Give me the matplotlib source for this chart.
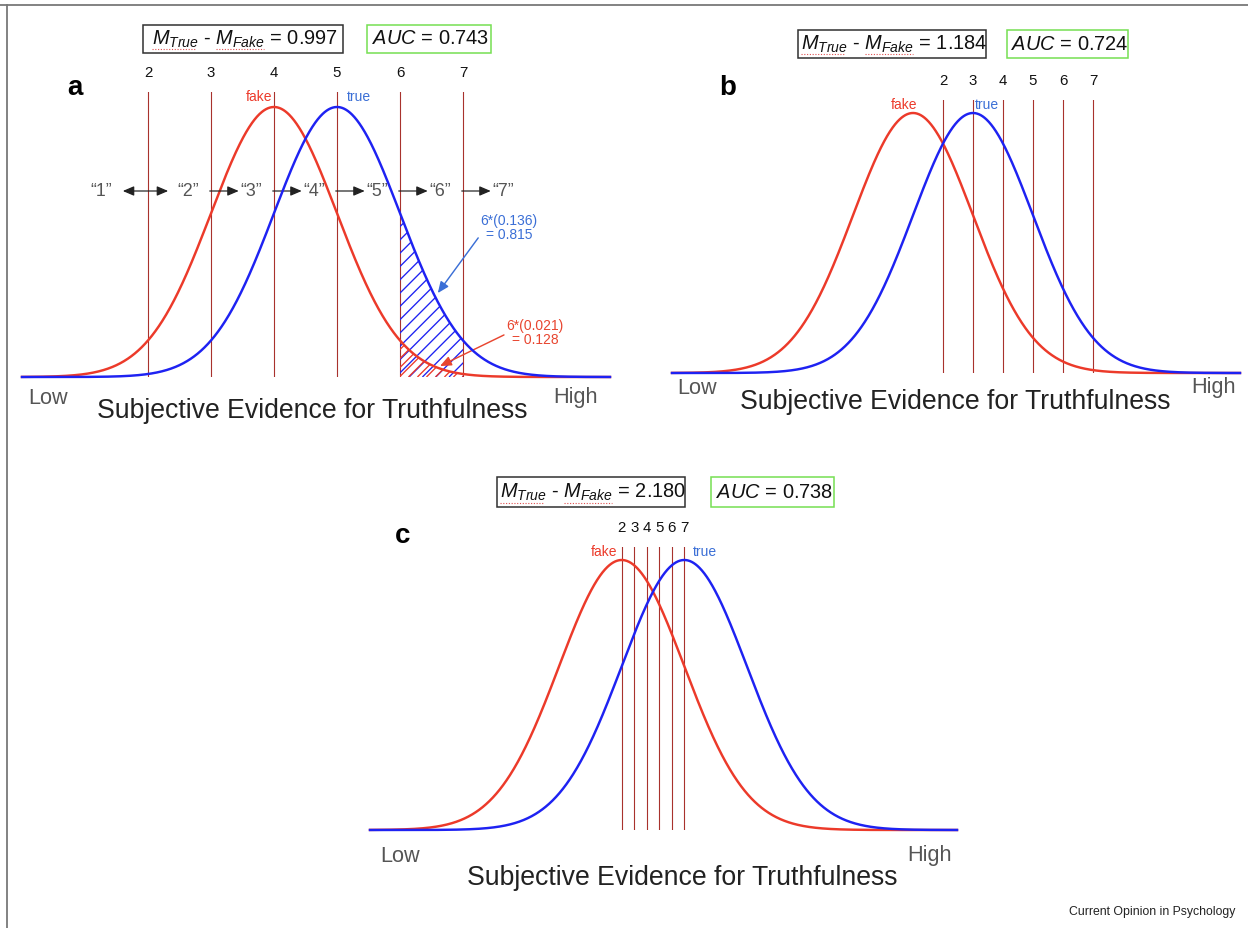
import numpy as np
import matplotlib
matplotlib.use("Agg")
import matplotlib.pyplot as plt
from matplotlib.patches import Rectangle, Polygon
from matplotlib.lines import Line2D
from matplotlib.collections import LineCollection

plt.rcParams["font.family"] = ["Liberation Sans", "DejaVu Sans"]
plt.rcParams["mathtext.fontset"] = "custom"
plt.rcParams["mathtext.rm"] = "Liberation Sans"
plt.rcParams["mathtext.it"] = "Liberation Sans:italic"
plt.rcParams["mathtext.sf"] = "Liberation Sans"

# signal detection setup: fake ~ N(0, 1), true ~ N(1, 1)
fake_mean = 0.0
true_mean = 1.0
sd = 1.0

criteria_a = [-2.0, -1.0, 0.0, 1.0, 2.0, 3.0]
criteria_b = [0.5, 1.0, 1.5, 2.0, 2.5, 3.0]
criteria_c = [0.0, 0.2, 0.4, 0.6, 0.8, 1.0]
criterion_labels = ["2", "3", "4", "5", "6", "7"]
rating_labels = ["\u201c1\u201d", "\u201c2\u201d", "\u201c3\u201d", "\u201c4\u201d",
                 "\u201c5\u201d", "\u201c6\u201d", "\u201c7\u201d"]

mean_diffs = ["0.997", "1.184", "2.180"]
aucs = ["0.743", "0.724", "0.738"]

true_area_text = "6*(0.136)\n= 0.815"
fake_area_text = "6*(0.021)\n= 0.128"

RED = "#ec3a2a"
BLUE = "#1e22f2"
CRIT = "#a8322d"
GRAY = "#555555"
ANN_BLUE = "#3b6fd6"
ANN_RED = "#e8452f"

W, H, DPI = 1248, 928, 80


def pdf(x, mu):
    return np.exp(-0.5 * ((x - mu) / sd) ** 2) / (sd * np.sqrt(2 * np.pi))


def fpos(x, y):
    return x / W, 1 - y / H


def hatch_under(ax, xs, ys, color, spacing_px, px_x, px_y, lw=1.2):
    # diagonal hatch lines (45 deg on screen) clipped to the area under a curve
    verts = [(xs[0], 0)] + list(zip(xs, ys)) + [(xs[-1], 0)]
    patch = Polygon(verts, closed=True, facecolor="none", edgecolor="none")
    ax.add_patch(patch)
    reach = ys.max() * px_y / px_x
    step = spacing_px / px_x
    starts = np.arange(xs[0] - reach - step, xs[-1] + step, step)
    run = (xs[-1] - xs[0]) + reach + 2 * step
    segs = [[(s, 0), (s + run, run * px_x / px_y)] for s in starts]
    lc = LineCollection(segs, colors=color, linewidths=lw, zorder=2)
    ax.add_collection(lc)
    lc.set_clip_path(patch)


# pixel layout per panel
panels = [
    dict(name="a", criteria=criteria_a, box=(22, 92, 610, 377), mean_px=274, unit_px=63, peak_px=107,
         diff_box=(143, 25, 343, 53), auc_box=(367, 25, 491, 53),
         letter=(75, 88), low=(28, 398), high=(598, 398), title=(312, 411),
         fake_dx=-2, true_dx=10),
    dict(name="b", criteria=criteria_b, box=(672, 100, 1240, 373), mean_px=913, unit_px=60, peak_px=113,
         diff_box=(798, 30, 986, 58), auc_box=(1007, 30, 1128, 58),
         letter=(728, 88), low=(677, 388), high=(1236, 388), title=(955, 402),
         fake_dx=4, true_dx=2),
    dict(name="c", criteria=criteria_c, box=(370, 547, 957, 830), mean_px=621.7, unit_px=62.6, peak_px=560,
         diff_box=(497, 477, 685, 507), auc_box=(711, 477, 834, 507),
         letter=(403, 536), low=(380, 856), high=(952, 856), title=(682, 878),
         fake_dx=-4, true_dx=9),
]

fig = plt.figure(figsize=(W / DPI, H / DPI), dpi=DPI)

# frame lines of the figure page
fig.add_artist(Line2D([0, 1], [1 - 5 / H, 1 - 5 / H], transform=fig.transFigure, color="#777777", lw=1.6))
fig.add_artist(Line2D([6.5 / W, 6.5 / W], [0, 1 - 5 / H], transform=fig.transFigure, color="#777777", lw=1.6))

arrow_style = "-|>,head_length=0.7,head_width=0.3"
diff_texts = []

for i, p in enumerate(panels):
    l, t, r, b = p["box"]
    ax = fig.add_axes([l / W, 1 - b / H, (r - l) / W, (b - t) / H])
    xlim = ((l - p["mean_px"]) / p["unit_px"], (r - p["mean_px"]) / p["unit_px"])
    px_y = (b - p["peak_px"]) / pdf(0, 0)
    ytop = (b - t) / px_y
    ax.set_xlim(xlim)
    ax.set_ylim(0, ytop)
    ax.axis("off")

    x = np.linspace(xlim[0], xlim[1], 1200)
    for c, lab in zip(p["criteria"], criterion_labels):
        ax.axvline(c, color=CRIT, lw=1.0, zorder=1)
        ax.annotate(lab, xy=(c, 1), xycoords=("data", "axes fraction"), xytext=(0, 19),
                    textcoords="offset pixels", ha="center", va="center", fontsize=13.5, color="#111111")
    ax.plot(x, pdf(x, fake_mean), color=RED, lw=2.2, zorder=3, clip_on=False)
    ax.plot(x, pdf(x, true_mean), color=BLUE, lw=2.2, zorder=4, clip_on=False)

    ax.annotate("fake", xy=(fake_mean, 1), xycoords=("data", "axes fraction"), xytext=(p["fake_dx"], -5),
                textcoords="offset pixels", ha="right", va="center", fontsize=12.5, color=RED)
    ax.annotate("true", xy=(true_mean, 1), xycoords=("data", "axes fraction"), xytext=(p["true_dx"], -5),
                textcoords="offset pixels", ha="left", va="center", fontsize=12.5, color=ANN_BLUE)

    if p["name"] == "a":
        crit = p["criteria"]
        # hatched probability of rating "6"
        xh = np.linspace(crit[4], crit[5], 200)
        hatch_under(ax, xh, pdf(xh, true_mean), BLUE, 13.3, p["unit_px"], px_y)
        hatch_under(ax, xh, pdf(xh, fake_mean), RED, 9.0, p["unit_px"], px_y)

        ya = (377 - 191) / px_y
        ax.annotate("", xy=(crit[0] + 0.32, ya), xytext=(crit[0] - 0.40, ya),
                    arrowprops=dict(arrowstyle="<|-|>,head_length=0.7,head_width=0.3", color="#222222",
                                    lw=1.1, shrinkA=0, shrinkB=0, mutation_scale=12))
        ax.text(crit[0] - 0.75, ya, rating_labels[0], ha="center", va="center", fontsize=16, color=GRAY)
        for k, c in enumerate(crit):
            if k > 0:
                ax.annotate("", xy=(c + 0.44, ya), xytext=(c - 0.02, ya),
                            arrowprops=dict(arrowstyle=arrow_style, color="#222222", lw=1.1,
                                            shrinkA=0, shrinkB=0, mutation_scale=12))
            ax.text(c + 0.64, ya, rating_labels[k + 1], ha="center", va="center", fontsize=16, color=GRAY)

        ax.annotate(true_area_text, xy=(2.60, 0.124), xytext=(3.73, 0.220), ha="center", va="center",
                    fontsize=12.5, color=ANN_BLUE, linespacing=1.05,
                    arrowprops=dict(arrowstyle=arrow_style, color=ANN_BLUE, lw=1.3, shrinkA=0, shrinkB=0,
                                    relpos=(0.05, 0.4), mutation_scale=12))
        ax.annotate(fake_area_text, xy=(2.635, 0.0162), xytext=(4.14, 0.065), ha="center", va="center",
                    fontsize=12.5, color=ANN_RED, linespacing=1.05,
                    arrowprops=dict(arrowstyle=arrow_style, color=ANN_RED, lw=1.3, shrinkA=0, shrinkB=0,
                                    relpos=(0.0, 0.47), mutation_scale=12))

    # header boxes
    for bx, ec, txt in [(p["diff_box"], "#333333", r"$M_{True}$ - $M_{Fake}$ = " + mean_diffs[i]),
                        (p["auc_box"], "#77e055", r"$AUC$ = " + aucs[i])]:
        x0, y0, x1, y1 = bx
        fig.add_artist(Rectangle((x0 / W, 1 - y1 / H), (x1 - x0) / W, (y1 - y0) / H,
                                 transform=fig.transFigure, fill=False, ec=ec, lw=1.4))
        tx = fig.text(*fpos((x0 + x1) / 2 + 2, (y0 + y1) / 2), txt, ha="center", va="center",
                      fontsize=18, color="#111111")
        if ec == "#333333":
            diff_texts.append((tx, y1))

    fig.text(*fpos(*p["letter"]), p["name"], ha="center", va="center", fontsize=25, fontweight="bold")
    fig.text(*fpos(*p["low"]), "Low", ha="left", va="center", fontsize=19.5, color=GRAY)
    fig.text(*fpos(*p["high"]), "High", ha="right", va="center", fontsize=19.5, color=GRAY)
    fig.text(*fpos(*p["title"]), "Subjective Evidence for Truthfulness", ha="center", va="center",
             fontsize=24, color="#222222")

fig.text(*fpos(1235, 912), "Current Opinion in Psychology", ha="right", va="center", fontsize=11,
         color="#222222")

# red dotted spell-check marks under the subscripted terms
fig.canvas.draw()
renderer = fig.canvas.get_renderer()
for tx, ybot in diff_texts:
    bb = tx.get_window_extent(renderer)
    yy = 1 - (ybot - 4) / H
    for f0, f1 in [(0.0, 0.236), (0.346, 0.604)]:
        xa = (bb.x0 + f0 * bb.width) / W
        xb = (bb.x0 + f1 * bb.width) / W
        fig.add_artist(Line2D([xa, xb], [yy, yy], transform=fig.transFigure, color="#e05050",
                              lw=1.0, linestyle=(0, (1, 1.5))))

fig.savefig("out.png", dpi=DPI)
